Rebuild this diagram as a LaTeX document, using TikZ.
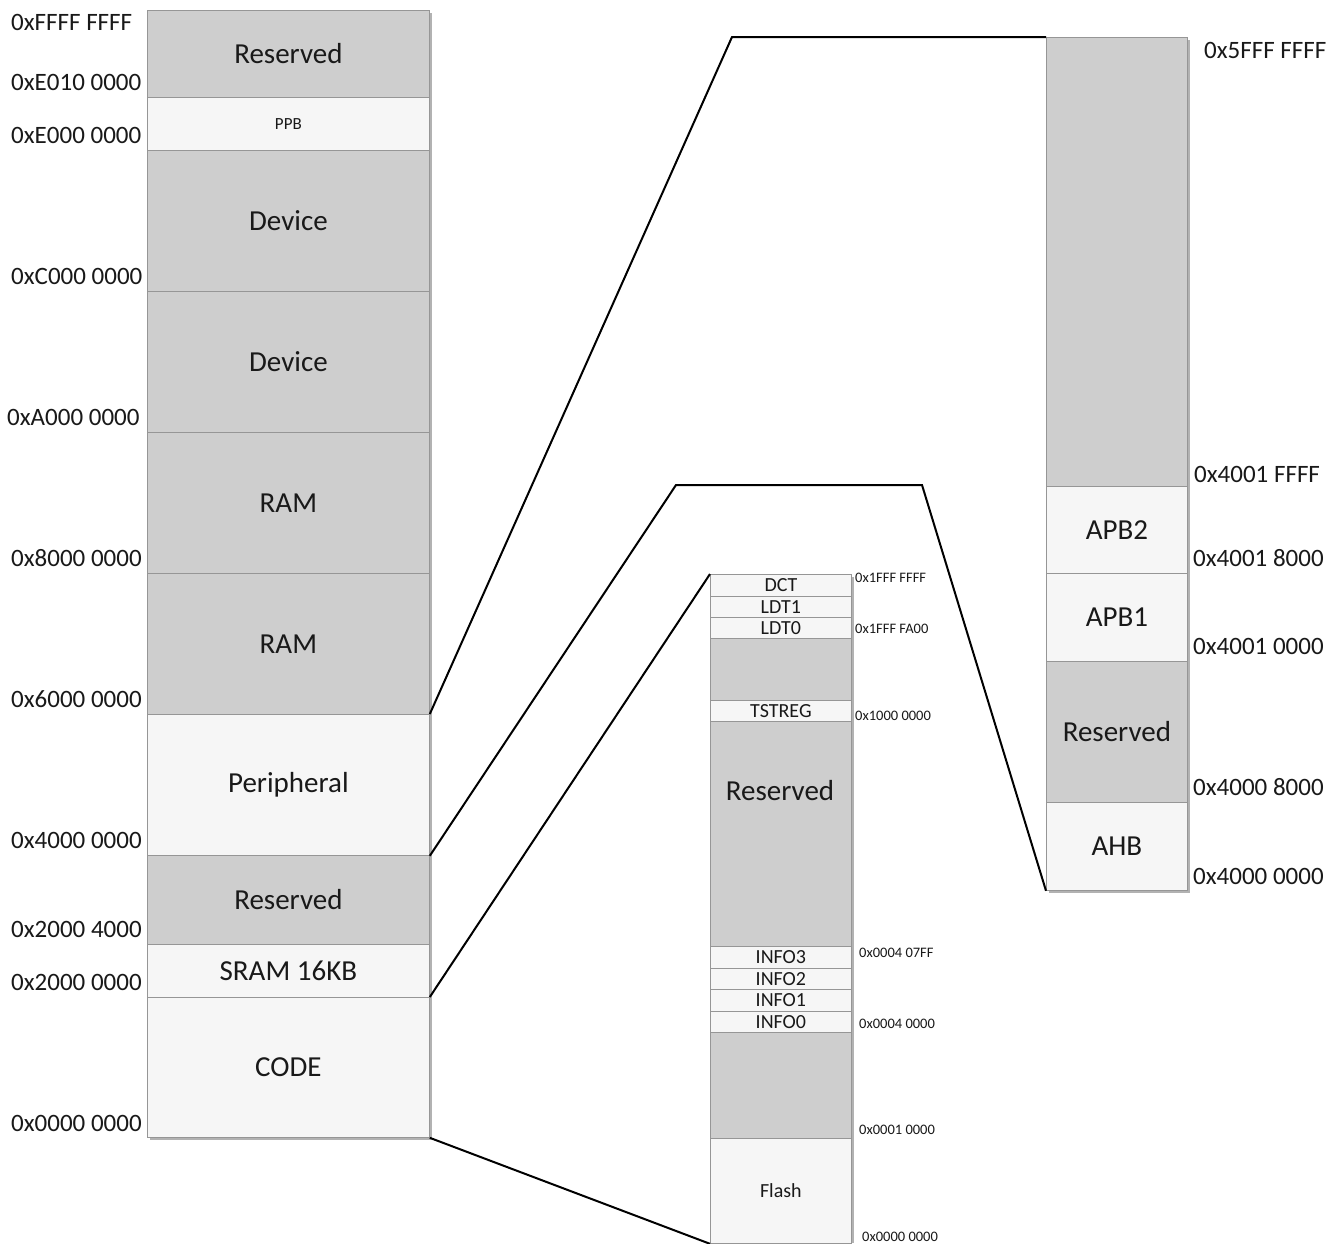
\documentclass[tikz,border=0pt]{standalone}
\usepackage{fontspec}
\setmainfont{Carlito}
\definecolor{dkf}{RGB}{206,206,206}
\definecolor{ltf}{RGB}{246,246,246}
\definecolor{bd}{RGB}{150,150,150}
\definecolor{tx}{RGB}{25,25,25}
\definecolor{shd}{RGB}{178,178,178}
\begin{document}
\begin{tikzpicture}[x=1pt,y=-1pt,
  blk/.style={draw=bd, line width=0.8pt, anchor=north west, inner sep=0pt, text=tx},
  dk/.style={blk, fill=dkf},
  lt/.style={blk, fill=ltf},
  lw/.style={minimum width=282},
  nw/.style={minimum width=141},
  big/.style={font=\fontsize{29}{30}\selectfont},
  sm/.style={font=\fontsize{20}{21}\selectfont},
  ppb/.style={font=\fontsize{17}{18}\selectfont},
  adr/.style={font=\fontsize{25}{26}\selectfont, anchor=west, inner sep=0pt, text=tx},
  sadr/.style={font=\fontsize{14.5}{15}\selectfont, anchor=west, inner sep=0pt, text=tx},
  conn/.style={line width=2pt, black, line join=miter}]
\useasboundingbox (0,0) rectangle (1337,1243);
\fill[white] (0,0) rectangle (1337,1243);
% shadows
\fill[shd] (150,13) rectangle (432,1140);
\fill[shd] (713,577) rectangle (854,1243);
\fill[shd] (1049,40) rectangle (1190,893);
% left column
\node[dk,lw,big,minimum height=87] (lres) at (147,10) {Reserved};
\node[lt,lw,ppb,minimum height=53] (lppb) at (147,97) {PPB};
\node[dk,lw,big,minimum height=141] (ldev1) at (147,150) {Device};
\node[dk,lw,big,minimum height=141] (ldev2) at (147,291) {Device};
\node[dk,lw,big,minimum height=141] (lram1) at (147,432) {RAM};
\node[dk,lw,big,minimum height=141] (lram2) at (147,573) {RAM};
\node[lt,lw,big,minimum height=141] (lper) at (147,714) {Peripheral};
\node[dk,lw,big,minimum height=89] (lres2) at (147,855) {Reserved};
\node[lt,lw,big,minimum height=53] (lsram) at (147,944) {SRAM 16KB};
\node[lt,lw,big,minimum height=140] (lcode) at (147,997) {CODE};
% left addresses
\node[adr] at (11,22) {0xFFFF FFFF};
\node[adr] at (11,82) {0xE010 0000};
\node[adr] at (11,135) {0xE000 0000};
\node[adr] at (11,276) {0xC000 0000};
\node[adr] at (7,417) {0xA000 0000};
\node[adr] at (11,558) {0x8000 0000};
\node[adr] at (11,699) {0x6000 0000};
\node[adr] at (11,840) {0x4000 0000};
\node[adr] at (11,929) {0x2000 4000};
\node[adr] at (11,982) {0x2000 0000};
\node[adr] at (11,1123) {0x0000 0000};
% middle column
\node[lt,nw,sm,minimum height=22] (mdct) at (710,574) {DCT};
\node[lt,nw,sm,minimum height=21] (mldt1) at (710,596) {LDT1};
\node[lt,nw,sm,minimum height=21] (mldt0) at (710,617) {LDT0};
\node[dk,nw,minimum height=62] (mg1) at (710,638) {};
\node[lt,nw,sm,minimum height=21] (mtst) at (710,700) {TSTREG};
\node[dk,nw,minimum height=225] (mres) at (710,721) {};
\node[big,text=tx] (mreslbl) at (780,791) {Reserved};
\node[lt,nw,sm,minimum height=22] (minf3) at (710,946) {INFO3};
\node[lt,nw,sm,minimum height=21] (minf2) at (710,968) {INFO2};
\node[lt,nw,sm,minimum height=22] (minf1) at (710,989) {INFO1};
\node[lt,nw,sm,minimum height=21] (minf0) at (710,1011) {INFO0};
\node[dk,nw,minimum height=106] (mg2) at (710,1032) {};
\node[lt,nw,sm,minimum height=105] (mflash) at (710,1138) {Flash};
% middle addresses
\node[sadr] at (855,578) {0x1FFF FFFF};
\node[sadr] at (855,629) {0x1FFF FA00};
\node[sadr] at (855,716) {0x1000 0000};
\node[sadr] at (859,953) {0x0004 07FF};
\node[sadr] at (859,1024) {0x0004 0000};
\node[sadr] at (859,1130) {0x0001 0000};
\node[sadr] at (862,1237) {0x0000 0000};
% right column
\node[dk,nw,minimum height=449] (rtop) at (1046,37) {};
\node[lt,nw,big,minimum height=87] (rapb2) at (1046,486) {APB2};
\node[lt,nw,big,minimum height=88] (rapb1) at (1046,573) {APB1};
\node[dk,nw,big,minimum height=141] (rres) at (1046,661) {Reserved};
\node[lt,nw,big,minimum height=88] (rahb) at (1046,802) {AHB};
% right addresses
\node[adr] at (1204,50) {0x5FFF FFFF};
\node[adr] at (1194,474) {0x4001 FFFF};
\node[adr] at (1193,558) {0x4001 8000};
\node[adr] at (1193,646) {0x4001 0000};
\node[adr] at (1193,787) {0x4000 8000};
\node[adr] at (1193,876) {0x4000 0000};
% connectors
\coordinate (c1) at (732,37);
\coordinate (c2) at (676,485);
\coordinate (c3) at (922,485);
\draw[conn] (lper.north east) -- (c1) -- (rtop.north west);
\draw[conn] (lper.south east) -- (c2) -- (c3) -- (rahb.south west);
\draw[conn] (lcode.north east) -- (mdct.north west);
\draw[conn] (lcode.south east) -- (mflash.south west);
\end{tikzpicture}
\end{document}
